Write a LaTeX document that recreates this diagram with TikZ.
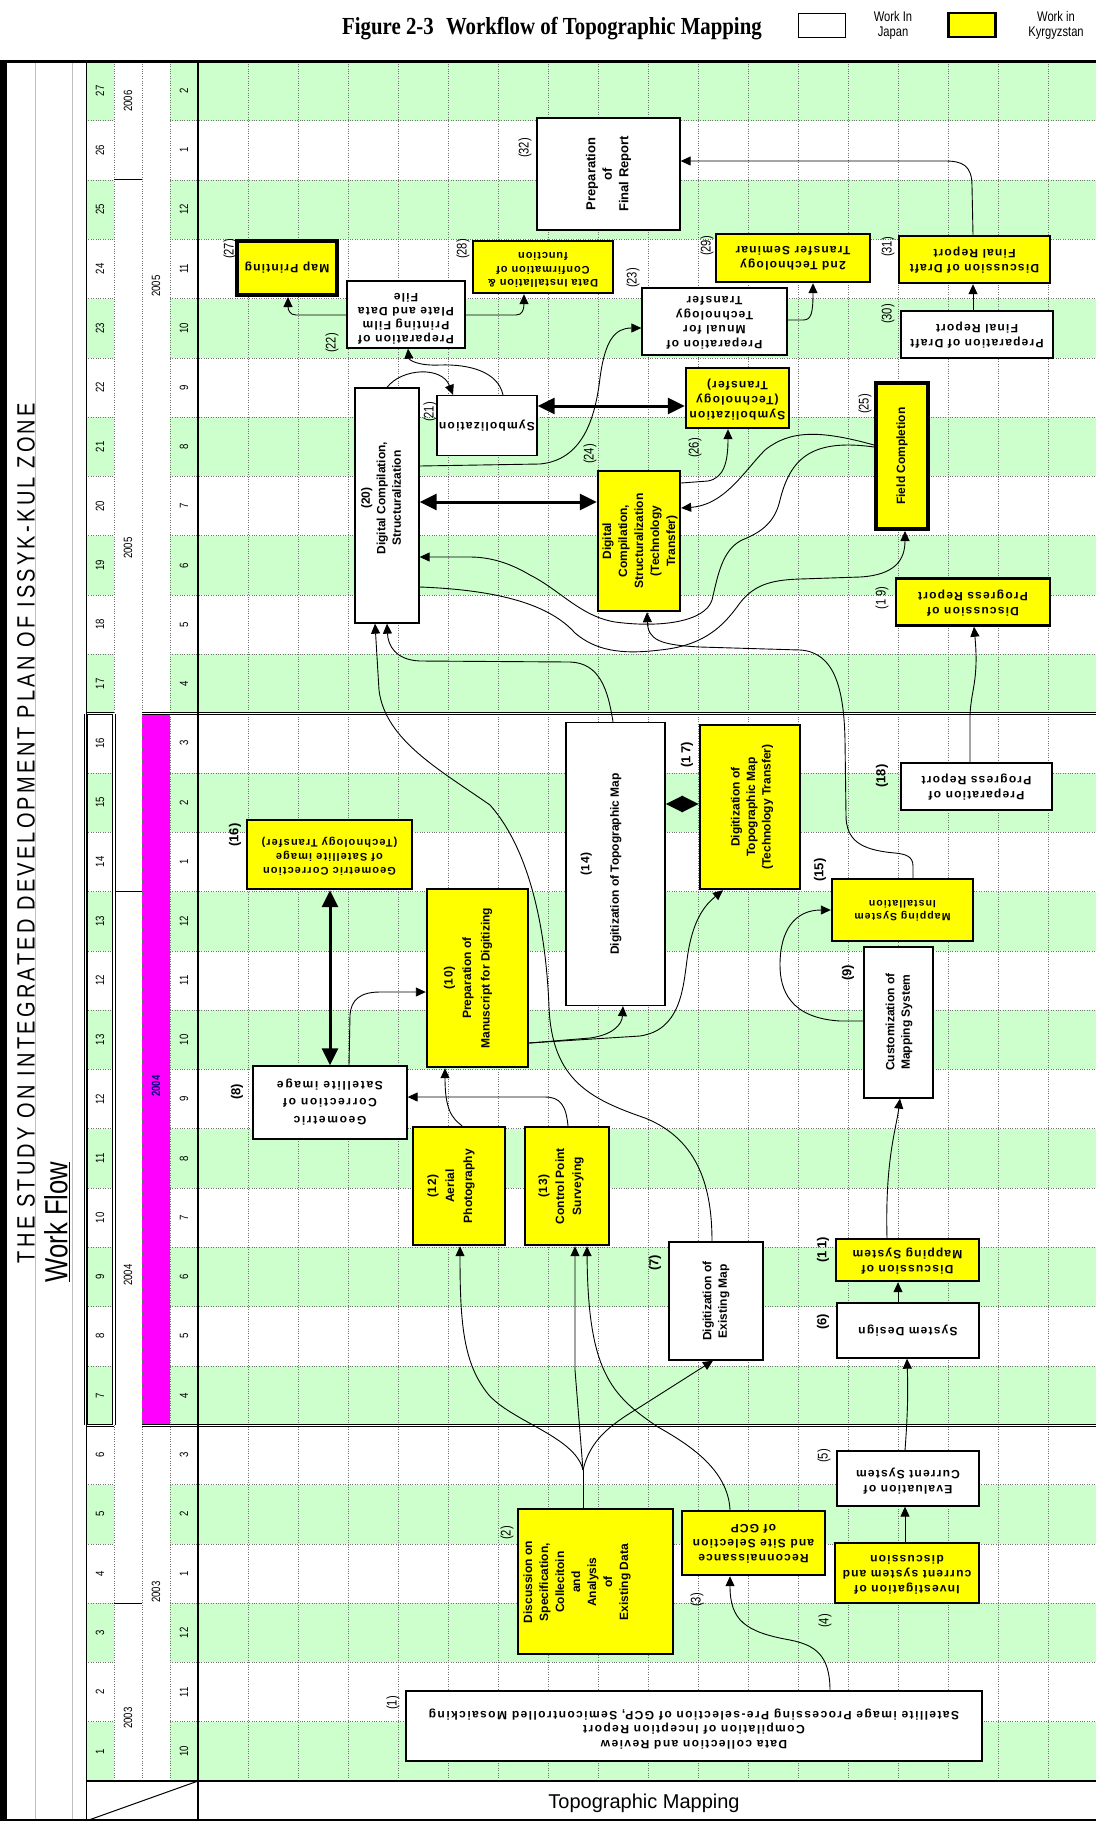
\documentclass[tikz,border=0pt]{standalone}
\usepackage{fontspec}
\setmainfont{Liberation Sans}
\newfontfamily\narrowf[FakeStretch=0.8]{Liberation Sans}
\newfontfamily\titlef[FakeStretch=0.85]{Liberation Serif}
\usetikzlibrary{arrows.meta,calc}
\definecolor{gfill}{HTML}{CCFFCC}
\definecolor{mag}{HTML}{FF00FF}
\definecolor{ylw}{HTML}{FFFF00}
\tikzset{
 dotl/.style={line width=0.6pt, black!55, dash pattern=on 0.8pt off 1.6pt},
 jbox/.style={draw=black, fill=white, line width=1.3pt, inner sep=0pt},
 kbox/.style={draw=black, fill=ylw, line width=2.4pt, inner sep=0pt},
 kboxb/.style={kbox, line width=4pt},
 t90/.style={rotate=90, align=center, inner sep=0pt, font=\bfseries\fontsize{12}{15.5}\selectfont},
 t180/.style={rotate=180, align=center, inner sep=0pt, font=\bfseries\addfontfeature{LetterSpace=10}\fontsize{12}{15}\selectfont},
 lab/.style={rotate=90, inner sep=0pt, font=\narrowf\fontsize{14}{14}\selectfont},
 labb/.style={rotate=90, inner sep=0pt, font=\bfseries\fontsize{13}{13}\selectfont},
 numl/.style={rotate=90, inner sep=0pt, font=\narrowf\fontsize{12}{12}\selectfont},
 conn/.style={line width=0.9pt, -{Triangle[length=10pt,width=9pt]}},
 plain/.style={line width=0.9pt},
 dbl/.style={line width=3pt, {Triangle[length=17pt,width=16pt]}-{Triangle[length=17pt,width=16pt]}},
}
\begin{document}
\begin{tikzpicture}[x=1pt,y=-1pt]
\useasboundingbox (0,0) rectangle (1096,1821);
\fill[white] (0,0) rectangle (1096,1821);
% row fills
\foreach \k in {1,3,...,29}{
  \pgfmathsetmacro\ya{1781-59.3*\k}
  \pgfmathsetmacro\yb{1781-59.3*(\k-1)}
  \fill[gfill] (86,\ya) rectangle (114,\yb);
  \fill[gfill] (170,\ya) rectangle (1096,\yb);
}
\fill[mag] (142,{1781-59.3*18}) rectangle (170,{1781-59.3*6});
% light sheet lines
\draw[black!25, line width=0.8pt] (35,61) -- (35,1821) (72,61) -- (72,1821);
% dotted grid
\foreach \c in {1,...,17}{
  \draw[dotl] ({198.5+50*\c},61.3) -- ({198.5+50*\c},1781);
}
\foreach \k in {1,...,28}{
  \pgfmathsetmacro\yy{1781-59.3*\k}
  \draw[dotl] (86,\yy) -- (114,\yy);
  \draw[dotl] (170,\yy) -- (1096,\yy);
}
\draw[dotl] (114,61.3) -- (114,1781) (142,61.3) -- (142,1781) (170,61.3) -- (170,1781);
% year separators
\foreach \k in {3,15,27}{
  \pgfmathsetmacro\yy{1781-59.3*\k}
  \draw[line width=1pt] (114,\yy) -- (142,\yy);
}
% phase double lines
\foreach \k in {6,18}{
  \pgfmathsetmacro\yy{1781-59.3*\k}
  \draw[line width=3.4pt] (86,\yy) -- (114,\yy) (142,\yy) -- (1096,\yy);
  \draw[white, line width=1.2pt] (86,\yy) -- (114,\yy) (142,\yy) -- (1096,\yy);
}
\draw[line width=3.4pt] (86,{1781-59.3*18}) -- (86,{1781-59.3*6}) (114,{1781-59.3*18}) -- (114,{1781-59.3*6});
\draw[white,line width=1.2pt] (86,{1781-59.3*18}) -- (86,{1781-59.3*6}) (114,{1781-59.3*18}) -- (114,{1781-59.3*6});
% frame
\fill[black] (0,61) rectangle (7,1821);
\draw[line width=3pt] (0,61) -- (1096,61);
\draw[line width=2.6pt] (198,61) -- (198,1821);
\draw[line width=2.6pt] (86,1781) -- (1096,1781);
\draw[line width=1pt] (86,61) -- (86,1821);
\draw[line width=1pt] (198,1781) -- (86,1821);
\draw[line width=2pt] (0,1820) -- (1096,1820);

% left column labels
\foreach \k/\lab/\mon in {1/1/10,2/2/11,3/3/12,4/4/1,5/5/2,6/6/3,7/7/4,8/8/5,9/9/6,10/10/7,11/11/8,12/12/9,13/13/10,14/12/11,15/13/12,16/14/1,17/15/2,18/16/3,19/17/4,20/18/5,21/19/6,22/20/7,23/21/8,24/22/9,25/23/10,26/24/11,27/25/12,28/26/1,29/27/2}{
  \pgfmathsetmacro\yc{1781-59.3*(\k-0.5)}
  \node[numl] (num\k) at (100,\yc) {\lab};
  \node[numl] (mon\k) at (184,\yc) {\mon};
}
\node[numl] (ya03) at (128,1718) {2003};
\node[numl] (ya04) at (128,1275) {2004};
\node[numl] (ya05) at (128,548) {2005};
\node[numl] (ya06) at (128,101) {2006};
\node[numl] (yb03) at (156,1592) {2003};
\node[numl, font=\narrowf\bfseries\fontsize{12}{12}\selectfont, text=blue!50!black] (yb04) at (156,1086) {2004};
\node[numl] (yb05) at (156,286) {2005};

% titles
\node[font=\titlef\bfseries\fontsize{24.5}{24.5}\selectfont, inner sep=0pt] (title) at (552,29) {Figure 2-3\enspace Workflow of Topographic Mapping};
\node[draw, line width=1pt, minimum width=47pt, minimum height=24pt, inner sep=0pt] (legj) at (822,25) {};
\node[font=\narrowf\fontsize{14}{15}\selectfont, align=center, inner sep=0pt] (legjt) at (893,25) {Work In\\Japan};
\node[draw, fill=ylw, line width=2.4pt, minimum width=47pt, minimum height=24pt, inner sep=0pt] (legk) at (972,25) {};
\node[font=\narrowf\fontsize{14}{15}\selectfont, align=center, inner sep=0pt] (legkt) at (1056,25) {Work in\\Kyrgyzstan};
\node[rotate=90, font=\narrowf\addfontfeature{LetterSpace=13}\fontsize{25}{25}\selectfont, inner sep=0pt] (head) at (26,833) {THE STUDY ON INTEGRATED DEVELOPMENT PLAN OF ISSYK-KUL ZONE};
\node[rotate=90, font=\narrowf\fontsize{32}{32}\selectfont, inner sep=0pt] (wf) at (57,1222) {\underline{Work Flow}};
\node[font=\fontsize{20}{20}\selectfont, inner sep=0pt] (topo) at (644,1803) {Topographic Mapping};

% boxes
\node[jbox, minimum width=576pt, minimum height=70pt] (b1) at (694,1726) {};
\node[kbox, minimum width=155pt, minimum height=145pt] (b2) at (595.5,1581.5) {};
\node[kbox, minimum width=143pt, minimum height=64pt] (b3) at (753.5,1543) {};
\node[kbox, minimum width=144pt, minimum height=60pt] (b4) at (907,1573) {};
\node[jbox, minimum width=142pt, minimum height=55pt] (b5) at (908,1478.5) {};
\node[jbox, minimum width=142pt, minimum height=55pt] (b6) at (908,1330.5) {};
\node[jbox, minimum width=94pt, minimum height=118pt] (b7) at (716,1301) {};
\node[jbox, minimum width=154pt, minimum height=73pt] (b8) at (330,1102.5) {};
\node[jbox, minimum width=69pt, minimum height=151pt] (b9) at (898.5,1022.5) {};
\node[kbox, minimum width=101pt, minimum height=178pt] (b10) at (477.5,978) {};
\node[kbox, minimum width=143pt, minimum height=42pt] (b11) at (907.5,1260) {};
\node[kbox, minimum width=92pt, minimum height=118pt] (b12) at (459,1186) {};
\node[kbox, minimum width=84pt, minimum height=118pt] (b13) at (567,1186) {};
\node[jbox, minimum width=99pt, minimum height=283pt] (b14) at (615.5,864) {};
\node[kbox, minimum width=141pt, minimum height=62pt] (b15) at (902.5,910) {};
\node[kbox, minimum width=165pt, minimum height=69pt] (b16) at (329.5,854.5) {};
\node[kbox, minimum width=100pt, minimum height=164pt] (b17) at (750,807) {};
\node[jbox, minimum width=151pt, minimum height=47pt] (b18) at (976.5,786.5) {};
\node[kbox, minimum width=154pt, minimum height=47pt] (b19) at (973,602) {};
\node[jbox, minimum width=64pt, minimum height=235pt] (b20) at (387,505.5) {};
\node[jbox, minimum width=100pt, minimum height=60pt] (b21) at (487,425.5) {};
\node[jbox, minimum width=118pt, minimum height=67pt] (b22) at (406,314.5) {};
\node[jbox, minimum width=145pt, minimum height=67pt] (b23) at (714.5,321.5) {};
\node[kbox, minimum width=82pt, minimum height=140pt] (b24) at (639,541) {};
\node[kboxb, minimum width=52pt, minimum height=146pt] (b25) at (902,456) {};
\node[kbox, minimum width=103pt, minimum height=60pt] (b26) at (737.5,398) {};
\node[kboxb, minimum width=100pt, minimum height=54pt] (b27) at (287,268) {};
\node[kbox, minimum width=140pt, minimum height=52pt] (b28) at (543,267) {};
\node[kbox, minimum width=154pt, minimum height=48pt] (b29) at (793,258) {};
\node[jbox, minimum width=152pt, minimum height=47pt] (b30) at (977,334.5) {};
\node[kbox, minimum width=151pt, minimum height=47pt] (b31) at (974.5,259.5) {};
\node[jbox, minimum width=143pt, minimum height=112pt] (b32) at (608.5,174) {};

% connectors
\coordinate (F) at (583,1470);
\draw[plain] (583,0 |- b2.north) -- (F);
\draw[conn] (830,0 |- b1.north) .. controls (830,1655) and (815,1645) .. (790,1640) .. controls (745,1632) and (730,1620) .. (730,0 |- b3.south);
\draw[conn] (F) .. controls (575,1435) and (505,1420) .. (485,1390) .. controls (463,1360) and (460,1320) .. (460,0 |- b12.south);
\draw[conn] (F) -- (575,1370) -- (575,0 |- b13.south);
\draw[conn] (F) .. controls (590,1440) and (610,1425) .. (640,1407) -- (713,0 |- b7.south);
\draw[conn] (730,0 |- b3.north) .. controls (728,1470) and (690,1445) .. (658,1427) .. controls (610,1395) and (588,1370) .. (587,0 |- b13.south);
\draw[conn] (905,0 |- b4.north) -- (905,0 |- b5.south);
\draw[conn] (905,0 |- b5.north) .. controls (908,1410) and (908,1390) .. (907,0 |- b6.south);
\draw[conn] (898,0 |- b6.north) -- (898,0 |- b11.south);
\draw[conn] (887,0 |- b11.north) .. controls (885,1160) and (896,1130) .. (900,0 |- b9.south);
\draw[conn] (b9.west |- 0,1021) -- (840,1021) .. controls (790,1018) and (780,990) .. (780,965) .. controls (780,930) and (795,910) .. (b15.west |- 0,910);
\draw[conn] (970,0 |- b18.north) -- (970,715) .. controls (971,690) and (979,680) .. (974,0 |- b19.south);
\draw[conn] (973,0 |- b30.north) -- (973,0 |- b31.south);
\draw[conn] (973,0 |- b31.north) -- (972,186) .. controls (972,165) and (962,161) .. (945,161) -- (b32.east |- 0,161);
\draw[conn] (b23.east |- 0,320) -- (803,320) .. controls (811,320) and (813,314) .. (813,0 |- b29.south);
\draw[conn] (b22.west |- 0,315) -- (296,315) .. controls (290,315) and (288,310) .. (288,0 |- b27.south);
\draw[conn] (b22.east |- 0,315) -- (516,315) .. controls (522,315) and (524,310) .. (524,0 |- b28.south);
\draw[conn] (387,0 |- b20.north) .. controls (402,368) and (442,366) .. (453,0 |- b21.north);
\draw[conn] (503,0 |- b21.north) .. controls (498,372) and (470,364) .. (440,365) .. controls (418,366) and (409,360) .. (408,0 |- b22.south);
\draw[conn] (b20.east |- 0,466) -- (540,464) .. controls (582,460) and (595,420) .. (600,378) .. controls (605,340) and (615,328) .. (b23.west |- 0,328);
\draw[dbl] (b20.east |- 0,502) -- (b24.west |- 0,502);
\draw[dbl] (b21.east |- 0,406) -- (b26.west |- 0,406);
\draw[conn] (b24.east |- 0,483) -- (708,481) .. controls (724,478) and (728,462) .. (728,0 |- b26.south);
\draw[conn] (b25.west |- 0,445) .. controls (820,430) and (790,430) .. (765,450) .. controls (745,470) and (725,505) .. (b24.east |- 0,508);
\draw[conn] (b25.west |- 0,447) .. controls (810,438) and (790,460) .. (780,500) .. controls (775,522) and (762,532) .. (742,540) .. controls (722,550) and (718,575) .. (712,600) .. controls (705,622) and (660,628) .. (615,622) .. controls (580,616) and (560,590) .. (530,575) .. controls (510,563) and (490,557) .. (470,557) -- (b20.east |- 0,557);
\draw[conn] (b20.east |- 0,587) .. controls (500,590) and (550,605) .. (575,633) .. controls (595,650) and (620,655) .. (660,650) .. controls (700,646) and (720,630) .. (737,607) .. controls (752,585) and (770,580) .. (800,579) -- (860,577) .. controls (895,575) and (905,560) .. (905,0 |- b25.south);
\draw[conn] (913,0 |- b15.north) -- (913,866) .. controls (913,856) and (905,854) .. (895,853) .. controls (860,850) and (846,840) .. (846,815) -- (845,740) .. controls (844,690) and (835,652) .. (800,650) -- (700,647) .. controls (660,645) and (648,640) .. (647,0 |- b24.south);
\draw[conn] (349,0 |- b8.north) -- (350,1015) .. controls (351,1000) and (360,992) .. (380,992) -- (b10.west |- 0,992);
\draw[dbl] (330,0 |- b16.south) -- (330,0 |- b8.north);
\draw[conn] (462,0 |- b12.north) .. controls (452,1118) and (445,1110) .. (445,0 |- b10.south);
\draw[conn] (568,0 |- b13.north) .. controls (566,1105) and (560,1097) .. (545,1097) -- (b8.east |- 0,1097);
\draw[conn] (b10.east |- 0,1043) -- (590,1038) .. controls (612,1035) and (622,1025) .. (623,0 |- b14.south);
\draw[conn] (b10.east |- 0,1043) -- (640,1036) .. controls (680,1030) and (683,990) .. (687,960) .. controls (692,920) and (705,905) .. (723,0 |- b17.south);
\draw[dbl] (b14.east |- 0,804) -- (b17.west |- 0,804);
\draw[conn] (613,0 |- b14.north) .. controls (608,690) and (600,663) .. (570,662) -- (420,661) .. controls (395,660) and (388,645) .. (387,0 |- b20.south);
\draw[conn] (712,0 |- b7.north) .. controls (712,1190) and (700,1140) .. (645,1118) .. controls (590,1099) and (552,1080) .. (549,1007) .. controls (546,930) and (530,850) .. (490,805) .. controls (440,770) and (385,740) .. (379,690) -- (375,0 |- b20.south);

% box texts
\node[t180, font=\bfseries\addfontfeature{LetterSpace=12}\fontsize{12}{14.5}\selectfont] (t1) at (694,1729) {Data collection and Review\\Compilation of Inception Report\\Satellite image Processing Pre-selection of GCP, Semicontrolled Mosaicking};
\node[t90, font=\bfseries\fontsize{12}{16}\selectfont] (t2) at (577,1582) {Discussion on\\Specification,\\Collecitoin\\and\\Analysis\\of\\Existing Data};
\node[t180] (t3) at (753.5,1544) {Reconnaissance\\and Site Selection\\of GCP};
\node[t180] (t4) at (907,1575) {Investigation of\\current system and\\discussion};
\node[t180] (t5) at (908,1481) {Evaluation of\\Current System};
\node[t180] (t6) at (908,1331) {System Design};
\node[t90] (t7) at (716,1301) {Digitization of\\Existing Map};
\node[t180, font=\bfseries\addfontfeature{LetterSpace=14}\fontsize{12}{17.5}\selectfont] (t8) at (330,1102) {Geometric\\Correction of\\Satellite image};
\node[t90] (t9) at (899,1022) {Customization of\\Mapping System};
\node[t90, font=\bfseries\fontsize{12}{18.5}\selectfont] (t10) at (468,978) {(1\,0)\\Preparation of\\Manuscript for Digitizing};
\node[t180] (t11) at (907.5,1261) {Discussion of\\Mapping System};
\node[t90, font=\bfseries\fontsize{12}{18}\selectfont] (t12) at (451,1186) {(1\,2)\\Aerial\\Photography};
\node[t90, font=\bfseries\fontsize{12}{17}\selectfont] (t13) at (561,1186) {(1\,3)\\Control Point\\Surveying};
\node[t90] (t14) at (601,864) {(1\,4)\\[14pt]Digitization of Topographic Map};
\node[t180, font=\bfseries\addfontfeature{LetterSpace=10}\fontsize{10.5}{13}\selectfont] (t15) at (902.5,911) {Mapping System\\Installation};
\node[t180, font=\bfseries\addfontfeature{LetterSpace=10}\fontsize{11}{14}\selectfont] (t16) at (329.5,856) {Geometric Correction\\of Satellite image\\(Technology Transfer)};
\node[t90] (t17) at (752,807) {Digitization of\\Topographic Map\\(Technology Transfer)};
\node[t180] (t18) at (976.5,787) {Preparation of\\Progress Report};
\node[t180] (t19) at (973,603) {Discussion of\\Progress Report};
\node[t90] (t20) at (381,498) {(20)\\Digital Compilation,\\Structuralization};
\node[t180] (t21) at (487,425.5) {Symbolization};
\node[t180, font=\bfseries\addfontfeature{LetterSpace=10}\fontsize{12}{14}\selectfont] (t22) at (406,319) {Preparation of\\Printing Film\\Plate and Data\\File};
\node[t180, font=\bfseries\addfontfeature{LetterSpace=10}\fontsize{12}{14.5}\selectfont] (t23) at (714.5,323) {Preparation of\\Mnual for\\Technology\\Transfer};
\node[t90, font=\bfseries\fontsize{12}{16}\selectfont] (t24) at (640,541) {Digital\\Compilation,\\Structuralization\\(Technology\\Transfer)};
\node[t90] (t25) at (902,456) {Field Completion};
\node[t180] (t26) at (737.5,400) {Symbolization\\(Technology\\Transfer)};
\node[t180] (t27) at (287,268) {Map Printing};
\node[t180, font=\bfseries\addfontfeature{LetterSpace=8}\fontsize{11}{13.5}\selectfont] (t28) at (543,270) {Data Installation \&\\Confirmation of\\function};
\node[t180] (t29) at (793,258) {2nd Technology\\Transfer Seminar};
\node[t180] (t30) at (977,335) {Preparation of Draft\\Final Report};
\node[t180] (t31) at (974.5,260) {Discussion of Draft\\Final Report};
\node[t90, font=\bfseries\fontsize{13}{16.5}\selectfont] (t32) at (608.5,174) {Preparation\\of\\Final Report};

% number labels
\node[lab] (l1) at (393,1703) {(1)};
\node[lab] (l2) at (507,1533) {(2)};
\node[lab] (l3) at (697,1600) {(3)};
\node[lab] (l4) at (825,1621) {(4)};
\node[lab] (l5) at (824,1456) {(5)};
\node[labb] (l6) at (823,1322) {(6)};
\node[labb] (l7) at (655,1263) {(7)};
\node[labb] (l8) at (237,1092) {(8)};
\node[labb] (l9) at (848,973) {(9)};
\node[labb] (l11) at (823,1250) {(1\,1)};
\node[labb] (l15) at (820,870) {(15)};
\node[labb] (l16) at (235,835) {(16)};
\node[labb] (l17) at (687,755) {(1\,7)};
\node[labb] (l18) at (882,776) {(18)};
\node[lab] (l19) at (882,598) {(1\,9)};
\node[lab] (l21) at (430,412) {(21)};
\node[lab] (l22) at (332,343) {(22)};
\node[lab] (l23) at (633,278) {(23)};
\node[lab] (l24) at (590,454) {(24)};
\node[lab] (l25) at (865,404) {(25)};
\node[lab] (l26) at (695,448) {(26)};
\node[lab] (l27) at (230,249) {(27)};
\node[lab] (l28) at (463,249) {(28)};
\node[lab] (l29) at (707,246) {(29)};
\node[lab] (l30) at (888,314) {(30)};
\node[lab] (l31) at (888,247) {(31)};
\node[lab] (l32) at (525,148) {(32)};
\end{tikzpicture}
\end{document}
